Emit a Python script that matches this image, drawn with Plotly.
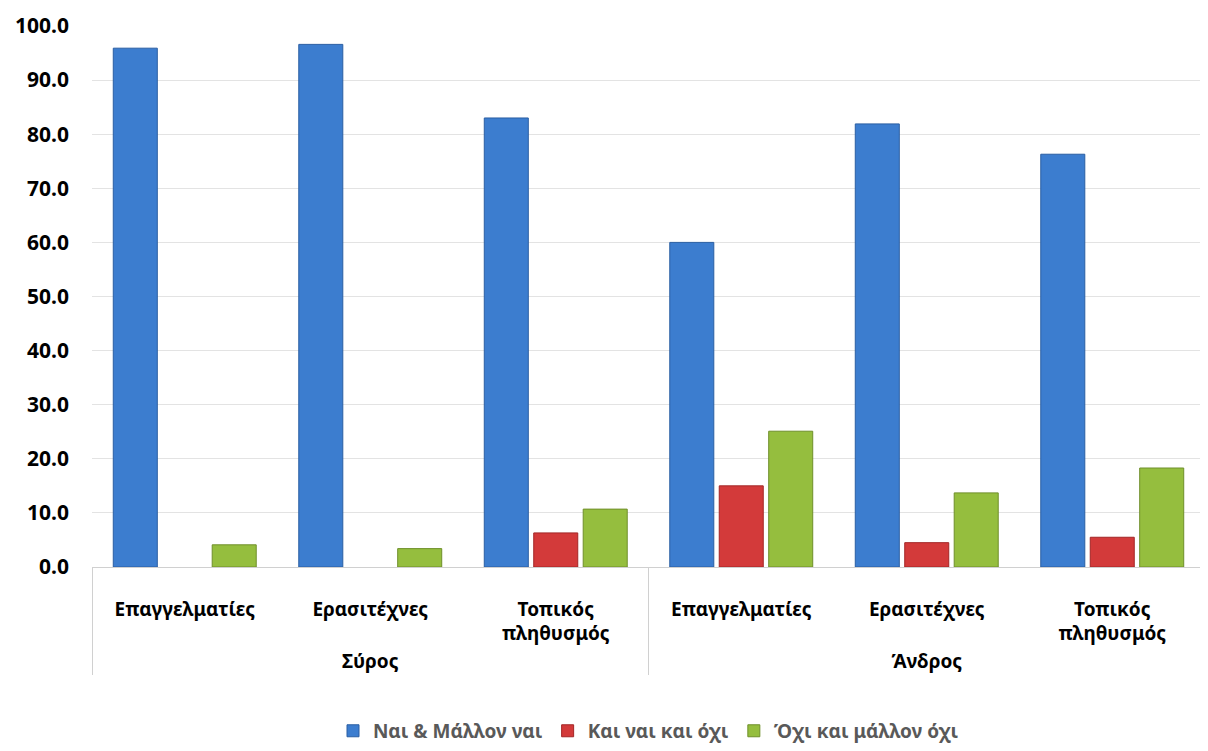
"""Γράφημα απαντήσεων ανά νησί και ομάδα"""

import plotly.graph_objects as go

islands = ["Σύρος", "Σύρος", "Σύρος", "Άνδρος", "Άνδρος", "Άνδρος"]
groups = ["Επαγγελματίες", "Ερασιτέχνες", "Τοπικός<br>πληθυσμός",
          "Επαγγελματίες", "Ερασιτέχνες", "Τοπικός<br>πληθυσμός"]

yes_values = [95.9, 96.6, 83.0, 60.0, 81.9, 76.3]
neutral_values = [None, None, 6.3, 15.0, 4.5, 5.5]
no_values = [4.1, 3.4, 10.7, 25.1, 13.7, 18.3]

series = [
    ("Ναι & Μάλλον ναι", yes_values, "#3C7DCF", "#2A5EA3"),
    ("Και ναι και όχι", neutral_values, "#D33A3A", "#A32626"),
    ("Όχι και μάλλον όχι", no_values, "#95BE3E", "#6F8F2A"),
]

font_family = "Noto Sans, Open Sans, sans-serif"

# αόρατη πρώτη γραμμή (nbsp) ώστε οι ετικέτες να κατέβουν κάτω από τον άξονα
group_labels = ["\u00a0<br>" + g for g in groups]

fig = go.Figure()
for name, values, color, edge in series:
    fig.add_trace(go.Bar(
        x=[islands, group_labels],
        y=values,
        name=name,
        marker=dict(color=color, line=dict(color=edge, width=1)),
    ))

# η σελίδα έχει περιθώριο 8px, οπότε το σχήμα είναι λίγο μικρότερο
fig.update_layout(
    width=1200,
    height=743,
    barmode="group",
    bargap=0.2,
    bargroupgap=0.11,
    plot_bgcolor="white",
    paper_bgcolor="white",
    margin=dict(l=84, r=3, t=18, b=184, autoexpand=False),
    font=dict(family=font_family, size=19, color="black"),
    legend=dict(
        orientation="h",
        x=0.5, xanchor="center",
        y=-0.303, yanchor="middle",
        font=dict(size=19, color="#595959", weight="bold"),
        itemwidth=30,
    ),
)

fig.update_yaxes(
    range=[0, 100],
    dtick=10,
    tickformat=".1f",
    showgrid=True,
    gridcolor="#E3E3E3",
    zeroline=False,
    automargin=False,
    tickfont=dict(size=21, color="black", family=font_family, weight="bold"),
    ticklabelstandoff=22,
)

fig.update_xaxes(
    type="multicategory",
    automargin=False,
    showline=True,
    linecolor="#D0D0D0",
    showdividers=True,
    dividercolor="#D0D0D0",
    dividerwidth=1,
    tickfont=dict(size=19, color="black", family=font_family, weight="bold"),
    ticks="",
)

fig.write_html("out.html")
